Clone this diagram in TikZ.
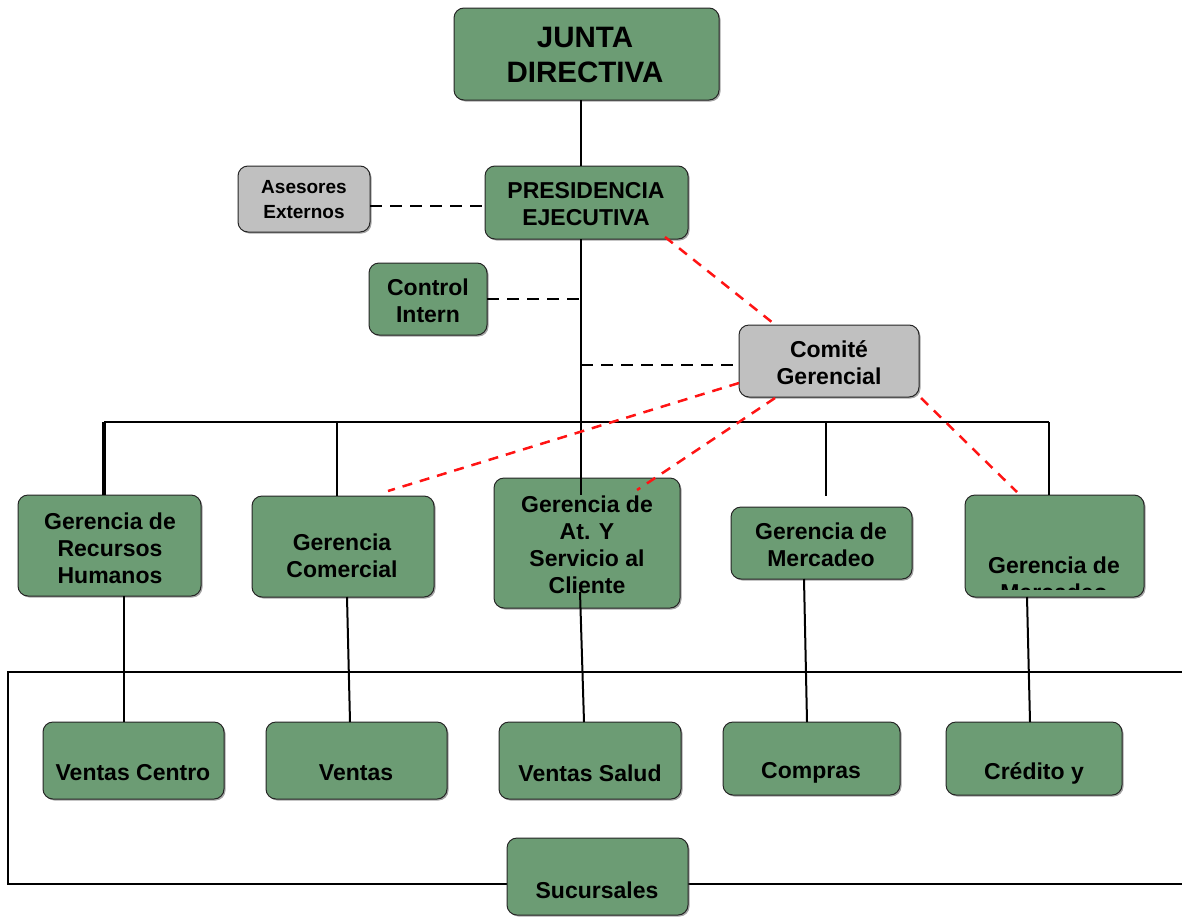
\documentclass[tikz,border=0pt]{standalone}
\usepackage{fontspec}
\setmainfont{Liberation Sans}
\usetikzlibrary{calc,shadows}
\definecolor{boxgreen}{RGB}{108,156,116}
\definecolor{boxgray}{RGB}{192,192,192}
\definecolor{dashred}{RGB}{255,20,20}
\tikzset{
  card/.style={rounded corners=10pt, draw=black!85, line width=1pt, inner sep=0pt, outer sep=0pt,
    drop shadow={shadow xshift=1.5pt, shadow yshift=-1.5pt, fill=black!70, opacity=0.5}},
  gbox/.style={card, fill=boxgreen},
  graybox/.style={card, fill=boxgray},
  txt/.style={font=\bfseries\fontsize{23}{27}\selectfont, align=center, inner sep=0pt},
  smalltxt/.style={font=\bfseries\fontsize{19}{25}\selectfont, align=center, inner sep=0pt},
  bigtxt/.style={font=\bfseries\fontsize{29.5}{35}\selectfont, align=center, inner sep=0pt},
  conn/.style={line width=2pt, black},
  dconn/.style={line width=2pt, black, dash pattern=on 12pt off 8pt},
  rconn/.style={line width=2.5pt, dashred, dash pattern=on 10pt off 8pt},
}
\begin{document}
\begin{tikzpicture}[x=1pt,y=-1pt]
\useasboundingbox (0,0) rectangle (1182,918);

% ---------- background connectors ----------
\coordinate (spine) at (581,0);
\coordinate (fr1) at (8,672);
\coordinate (fr2) at (1182,672);
\coordinate (fr3) at (8,884);
\coordinate (fr4) at (1182,884);
\draw[conn] (fr2) -- (fr1) -- (fr3) -- (fr4);

\coordinate (barL) at (104,422);
\coordinate (barR) at (1049,422);
\coordinate (b2) at (337,422);
\coordinate (b4) at (826,422);
\coordinate (b4e) at (826,496);
\draw[conn] (barL) -- (barR);

% ---------- boxes ----------
\node[gbox, minimum width=265pt, minimum height=92pt] (jd) at (586.5,54) {};
\node[gbox, minimum width=203pt, minimum height=73pt] (pe) at (586.5,202.5) {};
\node[graybox, minimum width=132pt, minimum height=66pt] (as) at (304,199) {};
\node[gbox, minimum width=118pt, minimum height=72pt] (ci) at (428,299) {};
\node[graybox, minimum width=180pt, minimum height=72pt] (cg) at (829,361) {};

\node[gbox, minimum width=183pt, minimum height=101pt] (rh) at (109.5,545.5) {};
\node[gbox, minimum width=182pt, minimum height=101pt] (cm) at (343,546.5) {};
\node[gbox, minimum width=186pt, minimum height=130pt] (at) at (587,543) {};
\node[gbox, minimum width=181pt, minimum height=72pt] (md) at (821.5,543) {};
\node[gbox, minimum width=179pt, minimum height=102pt] (m2) at (1054.5,546) {};

\node[gbox, minimum width=181pt, minimum height=77pt] (vc) at (133.5,760.5) {};
\node[gbox, minimum width=181pt, minimum height=77pt] (vs) at (356.5,760.5) {};
\node[gbox, minimum width=182pt, minimum height=77pt] (sa) at (590,760.5) {};
\node[gbox, minimum width=177pt, minimum height=73pt] (co) at (811.5,758.5) {};
\node[gbox, minimum width=176pt, minimum height=73pt] (cr) at (1034,758.5) {};
\node[gbox, minimum width=181pt, minimum height=77pt] (su) at (597.5,876.5) {};

% ---------- texts ----------
\node[bigtxt] (jdt) at (585,55) {JUNTA\\DIRECTIVA};
\node[txt] (pet) at (586,204) {PRESIDENCIA\\EJECUTIVA};
\node[smalltxt] (ast) at (304,200) {Asesores\\Externos};
\node[txt] (cit) at (428,301) {Control\\Intern};
\node[txt] (cgt) at (829,363) {Comité\\Gerencial};
\node[txt] (rht) at (110,548) {Gerencia de\\Recursos\\Humanos};
\node[txt] (cmt) at (342,556) {Gerencia\\Comercial};
\node[txt] (att) at (587,545) {Gerencia de\\At. Y\\Servicio al\\Cliente};
\node[txt] (mdt) at (821,545) {Gerencia de\\Mercadeo};
\begin{scope}
  \clip (966,496) rectangle (1143,589);
  \node[txt] (m2t) at (1054,579) {Gerencia de\\Mercadeo};
\end{scope}
\node[txt] (vct) at (133,773) {Ventas Centro};
\node[txt] (vst) at (356,773) {Ventas};
\node[txt] (sat) at (590,773) {Ventas Salud};
\node[txt] (cot) at (811,773) {Compras};
\node[txt] (crt) at (1034,773) {Crédito y};
\node[txt] (sut) at (597,890) {Sucursales};

% ---------- connectors ----------
\draw[conn] (spine |- jd.south) -- (spine |- pe.north);
\coordinate (atTop) at (581,495);
\draw[conn] (spine |- pe.south) -- (atTop);

\draw[conn, line width=3.5pt] (barL) -- (barL |- rh.north);
\draw[conn] (b2) -- (b2 |- cm.north);
\draw[conn] (b4) -- (b4e);
\draw[conn] (barR) -- (barR |- m2.north);

\draw[conn] ($(rh.south)+(14.5,0)$) -- ($(vc.north)+(-9.5,0)$);
\draw[conn] ($(cm.south)+(4,0)$) -- ($(vs.north)+(-6.5,0)$);
\draw[conn] ($(at.south)+(-7,-16)$) -- ($(sa.north)+(-6,0)$);
\draw[conn] ($(md.south)+(-17.5,0)$) -- ($(co.north)+(-4.5,0)$);
\draw[conn] ($(m2.south)+(-27.5,0)$) -- ($(cr.north)+(-4,0)$);

\coordinate (asE) at ($(as.east)+(0,7)$);
\draw[dconn] (asE) -- (asE -| pe.west);
\draw[dconn] (ci.east) -- (ci.east -| spine);
\coordinate (cgW) at ($(cg.west)+(0,4)$);
\draw[dconn] (spine |- cgW) -- (cgW);

\draw[rconn] ($(pe.south)+(78.5,-2)$) -- ($(cg.north)+(-56,-2)$);
\draw[rconn] ($(cg.west)+(0,22)$) -- ($(cm.north)+(45,-5)$);
\draw[rconn] ($(cg.south)+(-54,1)$) -- ($(at.north)+(50,12)$);
\draw[rconn] ($(cg.south)+(92,1)$) -- ($(m2.north)+(-37.5,-3)$);
\end{tikzpicture}
\end{document}
